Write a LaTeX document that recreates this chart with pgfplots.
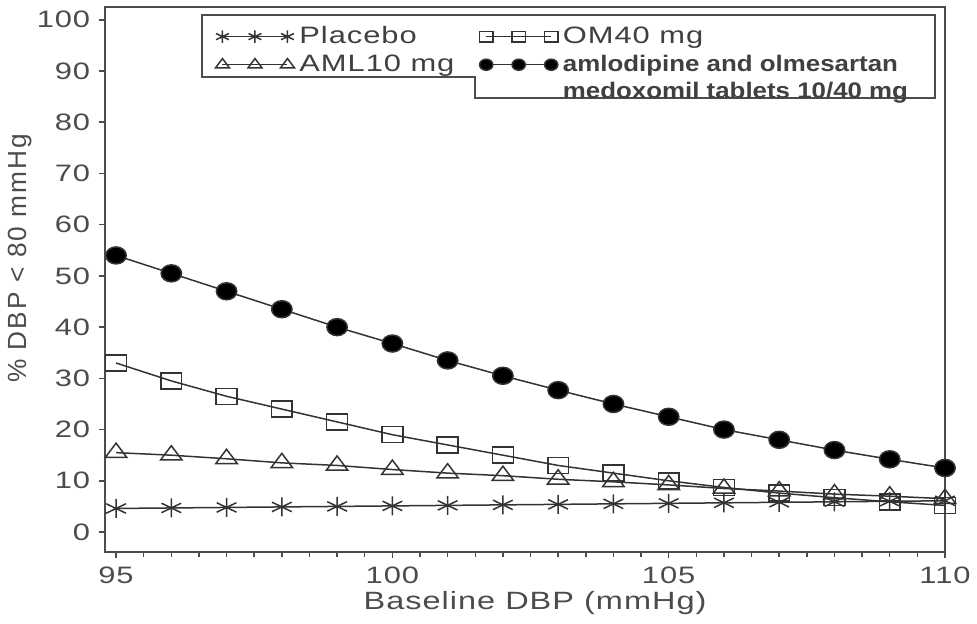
\documentclass[border=0pt]{standalone}
\usepackage{pgfplots}
\pgfplotsset{compat=1.18}
\usepackage{pgfplotstable}
\usepackage{fontspec}
\setmainfont{Liberation Sans}[FakeStretch=1.3, LetterSpace=4]
\newfontfamily\legbold{Liberation Sans}[FakeStretch=1.15]
\newfontfamily\yfont{Liberation Sans}[LetterSpace=8]

% baseline DBP vs percent reaching DBP < 80 mmHg
\pgfplotstableread{
x    placebo om40 aml10 combo
95   4.6  33.0 15.5 54.0
96   4.7  29.5 15.0 50.5
97   4.8  26.5 14.3 47.0
98   4.9  24.0 13.5 43.5
99   5.0  21.5 13.0 40.0
100  5.1  19.0 12.2 36.8
101  5.2  17.0 11.5 33.5
102  5.3  15.0 11.0 30.5
103  5.4  13.0 10.3 27.7
104  5.5  11.5  9.8 25.0
105  5.6  10.0  9.2 22.5
106  5.7   8.7  8.5 20.0
107  5.8   7.6  8.0 18.0
108  5.9   6.7  7.4 16.0
109  6.0   5.9  7.0 14.2
110  6.1   5.2  6.5 12.5
}\dbp

\begin{document}
\begin{tikzpicture}
\useasboundingbox (-42pt,-28.4pt) rectangle ++(390.8pt,249.2pt);
\begin{axis}[
    at={(0,0)}, anchor=south west,
    scale only axis, width=336pt, height=218pt,
    xmin=94.8, xmax=110, ymin=-3.9, ymax=102.5,
    xtick={95,100,105,110}, minor x tick num=9,
    ytick={0,10,...,100},
    tick align=outside, xtick pos=bottom, ytick pos=left,
    major tick length=2.4pt, minor tick length=2pt,
    axis line style={black!70, line width=0.8pt},
    every tick/.style={black!70, line width=0.6pt},
    every minor tick/.style={black!70, line width=0.6pt},
    tick label style={font=\fontsize{9.5}{11}\selectfont, text=black!70},
    /pgf/number format/assume math mode=true,
    xlabel={Baseline DBP (mmHg)},
    xlabel style={font=\fontsize{10}{12}\selectfont, text=black!70,
        at={(axis description cs:0.512,-0.0936)}, anchor=center},
    ylabel={\% DBP < 80 mmHg},
    ylabel style={font=\yfont\fontsize{10.5}{12}\selectfont, text=black!70,
        at={(axis description cs:-0.101,0.539)}, anchor=center},
    every axis plot/.append style={black!80, line width=0.6pt},
    legend columns=2,
    legend cell align=left,
    legend style={draw=none, fill=none, inner sep=0pt,
        at={(rel axis cs:0.131,0.975)}, anchor=north west,
        font=\fontsize{9.5}{11}\selectfont, text=black!75,
        /tikz/every even column/.append style={column sep=8pt},
        row sep=-1pt},
    legend image code/.code={
        \draw[mark repeat=1, mark phase=1, every mark/.append style={scale=0.65}]
            plot coordinates {(0pt,0pt) (13pt,0pt) (26pt,0pt)};},
]
\addplot[mark=asterisk, mark size=3.8pt, mark options={xscale=1.2}]
    table[x=x, y=placebo] {\dbp};
\addlegendentry{Placebo}
\addplot[mark=square, mark size=3.2pt, mark options={xscale=1.3}]
    table[x=x, y=om40] {\dbp};
\addlegendentry{OM40 mg}
\addplot[mark=triangle, mark size=3.8pt, mark options={xscale=1.3}]
    table[x=x, y=aml10] {\dbp};
\addlegendentry{AML10 mg}
\addplot[mark=*, mark size=3.4pt, mark options={xscale=1.2, fill=black}]
    table[x=x, y=combo] {\dbp};
\addlegendentry{\legbold\bfseries\fontsize{9}{10}\selectfont amlodipine and olmesartan}
\addlegendimage{empty legend}
\addlegendentry{}
\addlegendimage{empty legend}
\addlegendentry{\legbold\bfseries\fontsize{9}{10}\selectfont medoxomil tablets 10/40 mg}

% stepped legend frame
\draw[black!70, line width=0.8pt]
    (rel axis cs:0.1155,0.9853) -- (rel axis cs:0.988,0.9853)
    -- (rel axis cs:0.988,0.833) -- (rel axis cs:0.4405,0.833)
    -- (rel axis cs:0.4405,0.8716) -- (rel axis cs:0.1155,0.8716) -- cycle;
\end{axis}
\end{tikzpicture}
\end{document}
